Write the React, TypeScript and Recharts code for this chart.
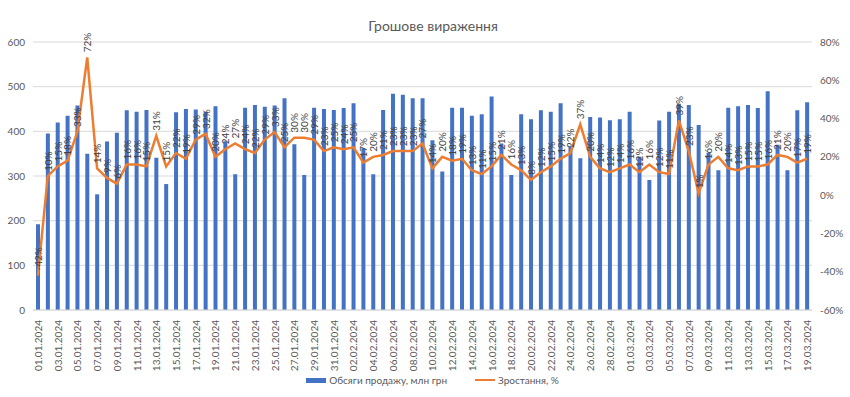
import { ComposedChart, Bar, Line, XAxis, YAxis, CartesianGrid, Legend } from 'recharts'

const dates = [
  '01.01.2024', '02.01.2024', '03.01.2024', '04.01.2024', '05.01.2024', '06.01.2024', '07.01.2024', '08.01.2024',
  '09.01.2024', '10.01.2024', '11.01.2024', '12.01.2024', '13.01.2024', '14.01.2024', '15.01.2024', '16.01.2024',
  '17.01.2024', '18.01.2024', '19.01.2024', '20.01.2024', '21.01.2024', '22.01.2024', '23.01.2024', '24.01.2024',
  '25.01.2024', '26.01.2024', '27.01.2024', '28.01.2024', '29.01.2024', '30.01.2024', '31.01.2024', '01.02.2024',
  '02.02.2024', '03.02.2024', '04.02.2024', '05.02.2024', '06.02.2024', '07.02.2024', '08.02.2024', '09.02.2024',
  '10.02.2024', '11.02.2024', '12.02.2024', '13.02.2024', '14.02.2024', '15.02.2024', '16.02.2024', '17.02.2024',
  '18.02.2024', '19.02.2024', '20.02.2024', '21.02.2024', '22.02.2024', '23.02.2024', '24.02.2024', '25.02.2024',
  '26.02.2024', '27.02.2024', '28.02.2024', '29.02.2024', '01.03.2024', '02.03.2024', '03.03.2024', '04.03.2024',
  '05.03.2024', '06.03.2024', '07.03.2024', '08.03.2024', '09.03.2024', '10.03.2024', '11.03.2024', '12.03.2024',
  '13.03.2024', '14.03.2024', '15.03.2024', '16.03.2024', '17.03.2024', '18.03.2024', '19.03.2024',
]

// обсяги продажу, млн грн
const sales = [
  192, 395, 420, 435, 458, 350, 259, 377, 397, 447, 444, 448, 341, 282, 443, 450,
  449, 444, 456, 378, 304, 453, 459, 455, 458, 474, 371, 302, 453, 450, 448, 452,
  463, 362, 304, 448, 484, 482, 474, 474, 380, 310, 453, 453, 435, 438, 478, 373,
  302, 438, 427, 447, 444, 463, 368, 340, 432, 431, 425, 427, 444, 343, 291, 424,
  444, 462, 459, 414, 352, 313, 453, 456, 459, 452, 490, 370, 313, 447, 465,
]

// зростання, %
const growth = [
  -42, 10, 15, 18, 33, 72, 14, 9, 6, 16, 16, 15, 31, 15, 22, 19,
  29, 32, 20, 24, 27, 24, 22, 29, 33, 25, 30, 30, 29, 23, 25, 24,
  25, 17, 20, 21, 23, 23, 23, 27, 14, 20, 18, 19, 13, 11, 15, 21,
  16, 13, 8, 12, 15, 19, 22, 37, 20, 14, 12, 14, 16, 12, 16, 12,
  11, 39, 23, 1, 16, 20, 14, 13, 15, 15, 16, 21, 20, 17, 19,
]

const leftTicks = [0, 100, 200, 300, 400, 500, 600]
const rightTicks = [-60, -40, -20, 0, 20, 40, 60, 80]

const data = dates.map((d, i) => ({ date: d, sales: sales[i], growth: growth[i] }))

const FONT = 'Lato, "Open Sans", sans-serif'
const TEXT = '#595959'

const PctLabel = (props: any) => {
  const { x, y, value } = props
  if (x == null || y == null) return null
  return (
    <text
      x={x}
      y={y - 5}
      transform={`rotate(-90 ${x} ${y - 5})`}
      textAnchor="start"
      dominantBaseline="central"
      fontSize={10}
      fontFamily={FONT}
      fill="#404040"
    >
      {value}%
    </text>
  )
}

const DateTick = (props: any) => {
  const { x, y, payload } = props
  return (
    <text
      x={x}
      y={y + 2}
      transform={`rotate(-90 ${x} ${y + 2})`}
      textAnchor="end"
      dominantBaseline="central"
      fontSize={10}
      fontFamily={FONT}
      fill={TEXT}
    >
      {payload.value}
    </text>
  )
}

export default function App() {
  return (
    <div style={{ position: 'absolute', left: 0, top: 0, width: 850, height: 397, background: '#fff', fontFamily: FONT }}>
      <div
        style={{
          position: 'absolute',
          left: 0,
          top: 17,
          width: 866,
          textAlign: 'center',
          fontSize: 14,
          color: TEXT,
        }}
      >
        Грошове вираження
      </div>
      <ComposedChart
        width={850}
        height={397}
        data={data}
        margin={{ top: 42, right: 0, bottom: 3, left: 5 }}
        barSize={4}
      >
        <CartesianGrid yAxisId="left" vertical={false} stroke="#d9d9d9" />
        <XAxis
          dataKey="date"
          interval={1}
          height={60}
          tickLine={false}
          axisLine={{ stroke: '#d9d9d9' }}
          tick={<DateTick />}
        />
        <YAxis
          yAxisId="left"
          domain={[0, 600]}
          ticks={leftTicks}
          width={28}
          axisLine={false}
          tickLine={false}
          tick={{ fontSize: 10, fill: TEXT, fontFamily: FONT }}
        />
        <YAxis
          yAxisId="right"
          orientation="right"
          domain={[-60, 80]}
          ticks={rightTicks}
          width={38}
          axisLine={false}
          tickLine={false}
          tickFormatter={(v: number) => `${v}%`}
          tick={{ fontSize: 10, fill: TEXT, fontFamily: FONT }}
        />
        <Legend
          verticalAlign="bottom"
          height={24}
          iconSize={0}
          wrapperStyle={{ fontSize: 10, fontFamily: FONT }}
          content={() => (
            <div style={{ display: 'flex', justifyContent: 'center', gap: 28, fontSize: 10, color: TEXT, paddingLeft: 10, paddingTop: 4 }}>
              <span style={{ display: 'flex', alignItems: 'center' }}>
                <span style={{ display: 'inline-block', width: 20, height: 5, background: '#4472C4', marginRight: 3 }} />
                Обсяги продажу, млн грн
              </span>
              <span style={{ display: 'flex', alignItems: 'center' }}>
                <span style={{ display: 'inline-block', width: 20, height: 2, background: '#ED7D31', marginRight: 3 }} />
                Зростання, %
              </span>
            </div>
          )}
        />
        <Bar yAxisId="left" dataKey="sales" name="Обсяги продажу, млн грн" fill="#4472C4" isAnimationActive={false} />
        <Line
          yAxisId="right"
          dataKey="growth"
          name="Зростання, %"
          stroke="#ED7D31"
          strokeWidth={2.5}
          dot={false}
          activeDot={false}
          label={<PctLabel />}
          isAnimationActive={false}
        />
      </ComposedChart>
    </div>
  )
}
